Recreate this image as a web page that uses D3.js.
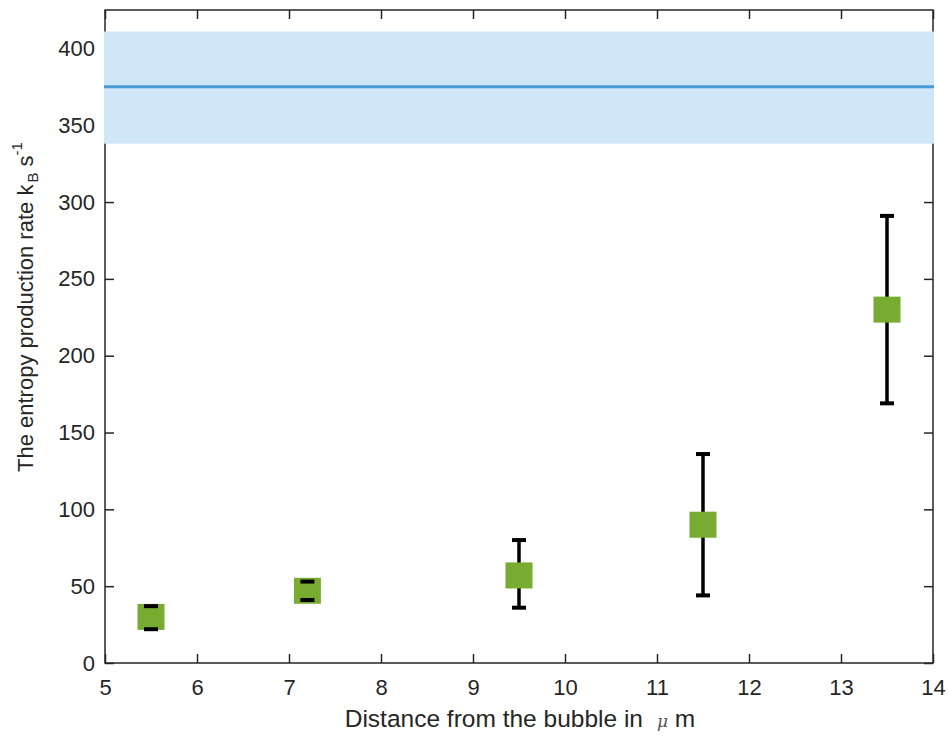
<!DOCTYPE html>
<html>
<head>
<meta charset="utf-8">
<script src="https://cdn.jsdelivr.net/npm/d3@7"></script>
<style>
  body { margin: 0; background: #fff; }
  text { font-family: "Liberation Sans", Arial, sans-serif; fill: #262626; }
</style>
</head>
<body>
<div id="chart"></div>
<script>
// distance from bubble (um) and entropy production rate (kB/s)
const distances = [5.5, 7.2, 9.5, 11.5, 13.5];
const rates = [30, 47, 57, 90, 230];
const rateLow = [22, 41, 36, 44, 169];
const rateHigh = [37, 53, 80, 136, 291];

// reference band
const bandMean = 375;
const bandLow = 338;
const bandHigh = 411;

const xTicks = [5, 6, 7, 8, 9, 10, 11, 12, 13, 14];
const yTicks = [0, 50, 100, 150, 200, 250, 300, 350, 400];

const width = 948, height = 738;
const margin = {top: 10, right: 15, bottom: 75, left: 105};

const x = d3.scaleLinear()
  .domain([5, 14])
  .range([margin.left, width - margin.right]);

const y = d3.scaleLinear()
  .domain([0, 425])
  .range([height - margin.bottom, margin.top]);

const svg = d3.select('#chart').append('svg')
  .attr('width', width)
  .attr('height', height);

const axisColor = '#262626';
const tickLen = 9;

const styleAxis = g => {
  g.select('.domain').remove();
  g.selectAll('.tick line').attr('stroke', axisColor).attr('stroke-width', 1.5);
  g.selectAll('.tick text').style('font-size', '22px').attr('fill', axisColor);
};

// bottom axis (ticks inward)
svg.append('g')
  .attr('transform', `translate(0,${y(0)})`)
  .call(d3.axisBottom(x).tickValues(xTicks).tickSize(-tickLen).tickPadding(16))
  .call(styleAxis);

// top axis, no labels
svg.append('g')
  .attr('transform', `translate(0,${y(425)})`)
  .call(d3.axisTop(x).tickValues(xTicks).tickSize(-tickLen).tickFormat(''))
  .call(styleAxis);

// left axis
svg.append('g')
  .attr('transform', `translate(${x(5)},0)`)
  .call(d3.axisLeft(y).tickValues(yTicks).tickSize(-tickLen).tickPadding(10))
  .call(styleAxis);

// right axis, no labels
svg.append('g')
  .attr('transform', `translate(${x(14)},0)`)
  .call(d3.axisRight(y).tickValues(yTicks).tickSize(-tickLen).tickFormat(''))
  .call(styleAxis);

// box
svg.append('rect')
  .attr('x', x(5))
  .attr('y', y(425))
  .attr('width', x(14) - x(5))
  .attr('height', y(0) - y(425))
  .attr('fill', 'none')
  .attr('stroke', axisColor)
  .attr('stroke-width', 1.5);

// band drawn over the frame
svg.append('rect')
  .attr('x', x(5) - 1)
  .attr('y', y(bandHigh))
  .attr('width', x(14) - x(5) + 2)
  .attr('height', y(bandLow) - y(bandHigh))
  .attr('fill', '#d0e6f9');

svg.append('line')
  .attr('x1', x(5) - 1)
  .attr('x2', x(14) + 1)
  .attr('y1', y(bandMean))
  .attr('y2', y(bandMean))
  .attr('stroke', '#4a9ad5')
  .attr('stroke-width', 3);

const pts = distances.map((d, i) => ({ d, v: rates[i], lo: rateLow[i], hi: rateHigh[i] }));

// error bar stems
svg.append('g').selectAll('line').data(pts).join('line')
  .attr('x1', p => x(p.d))
  .attr('x2', p => x(p.d))
  .attr('y1', p => y(p.lo))
  .attr('y2', p => y(p.hi))
  .attr('stroke', '#000')
  .attr('stroke-width', 3.5);

// markers
const sqW = 27, sqH = 26;
svg.append('g').selectAll('rect').data(pts).join('rect')
  .attr('x', p => x(p.d) - sqW / 2)
  .attr('y', p => y(p.v) - sqH / 2)
  .attr('width', sqW)
  .attr('height', sqH)
  .attr('fill', '#77ac30');

// caps
const capW = 14;
const caps = pts.flatMap(p => [{ d: p.d, v: p.lo }, { d: p.d, v: p.hi }]);
svg.append('g').selectAll('line').data(caps).join('line')
  .attr('x1', c => x(c.d) - capW / 2)
  .attr('x2', c => x(c.d) + capW / 2)
  .attr('y1', c => y(c.v))
  .attr('y2', c => y(c.v))
  .attr('stroke', '#000')
  .attr('stroke-width', 4);

// x label
const xl = svg.append('text')
  .attr('x', 520)
  .attr('y', 727)
  .attr('text-anchor', 'middle')
  .style('font-size', '24.5px');
xl.append('tspan').text('Distance from the bubble in');
xl.append('tspan').attr('dx', 14).style('font-style', 'italic').style('font-family', '"DejaVu Serif", serif').style('font-size', '17px').attr('fill', '#555').text('\u03bc');
xl.append('tspan').text(' m');

// y label
const yl = svg.append('text')
  .attr('transform', 'translate(33,472) rotate(-90)')
  .attr('text-anchor', 'start')
  .style('font-size', '22px');
yl.append('tspan').text('The entropy production rate k');
yl.append('tspan').attr('dy', 5).attr('dx', 2).style('font-size', '15px').text('B');
yl.append('tspan').attr('dy', -5).text(' s');
yl.append('tspan').attr('dy', -11).style('font-size', '15px').text('-1');
</script>
</body>
</html>
